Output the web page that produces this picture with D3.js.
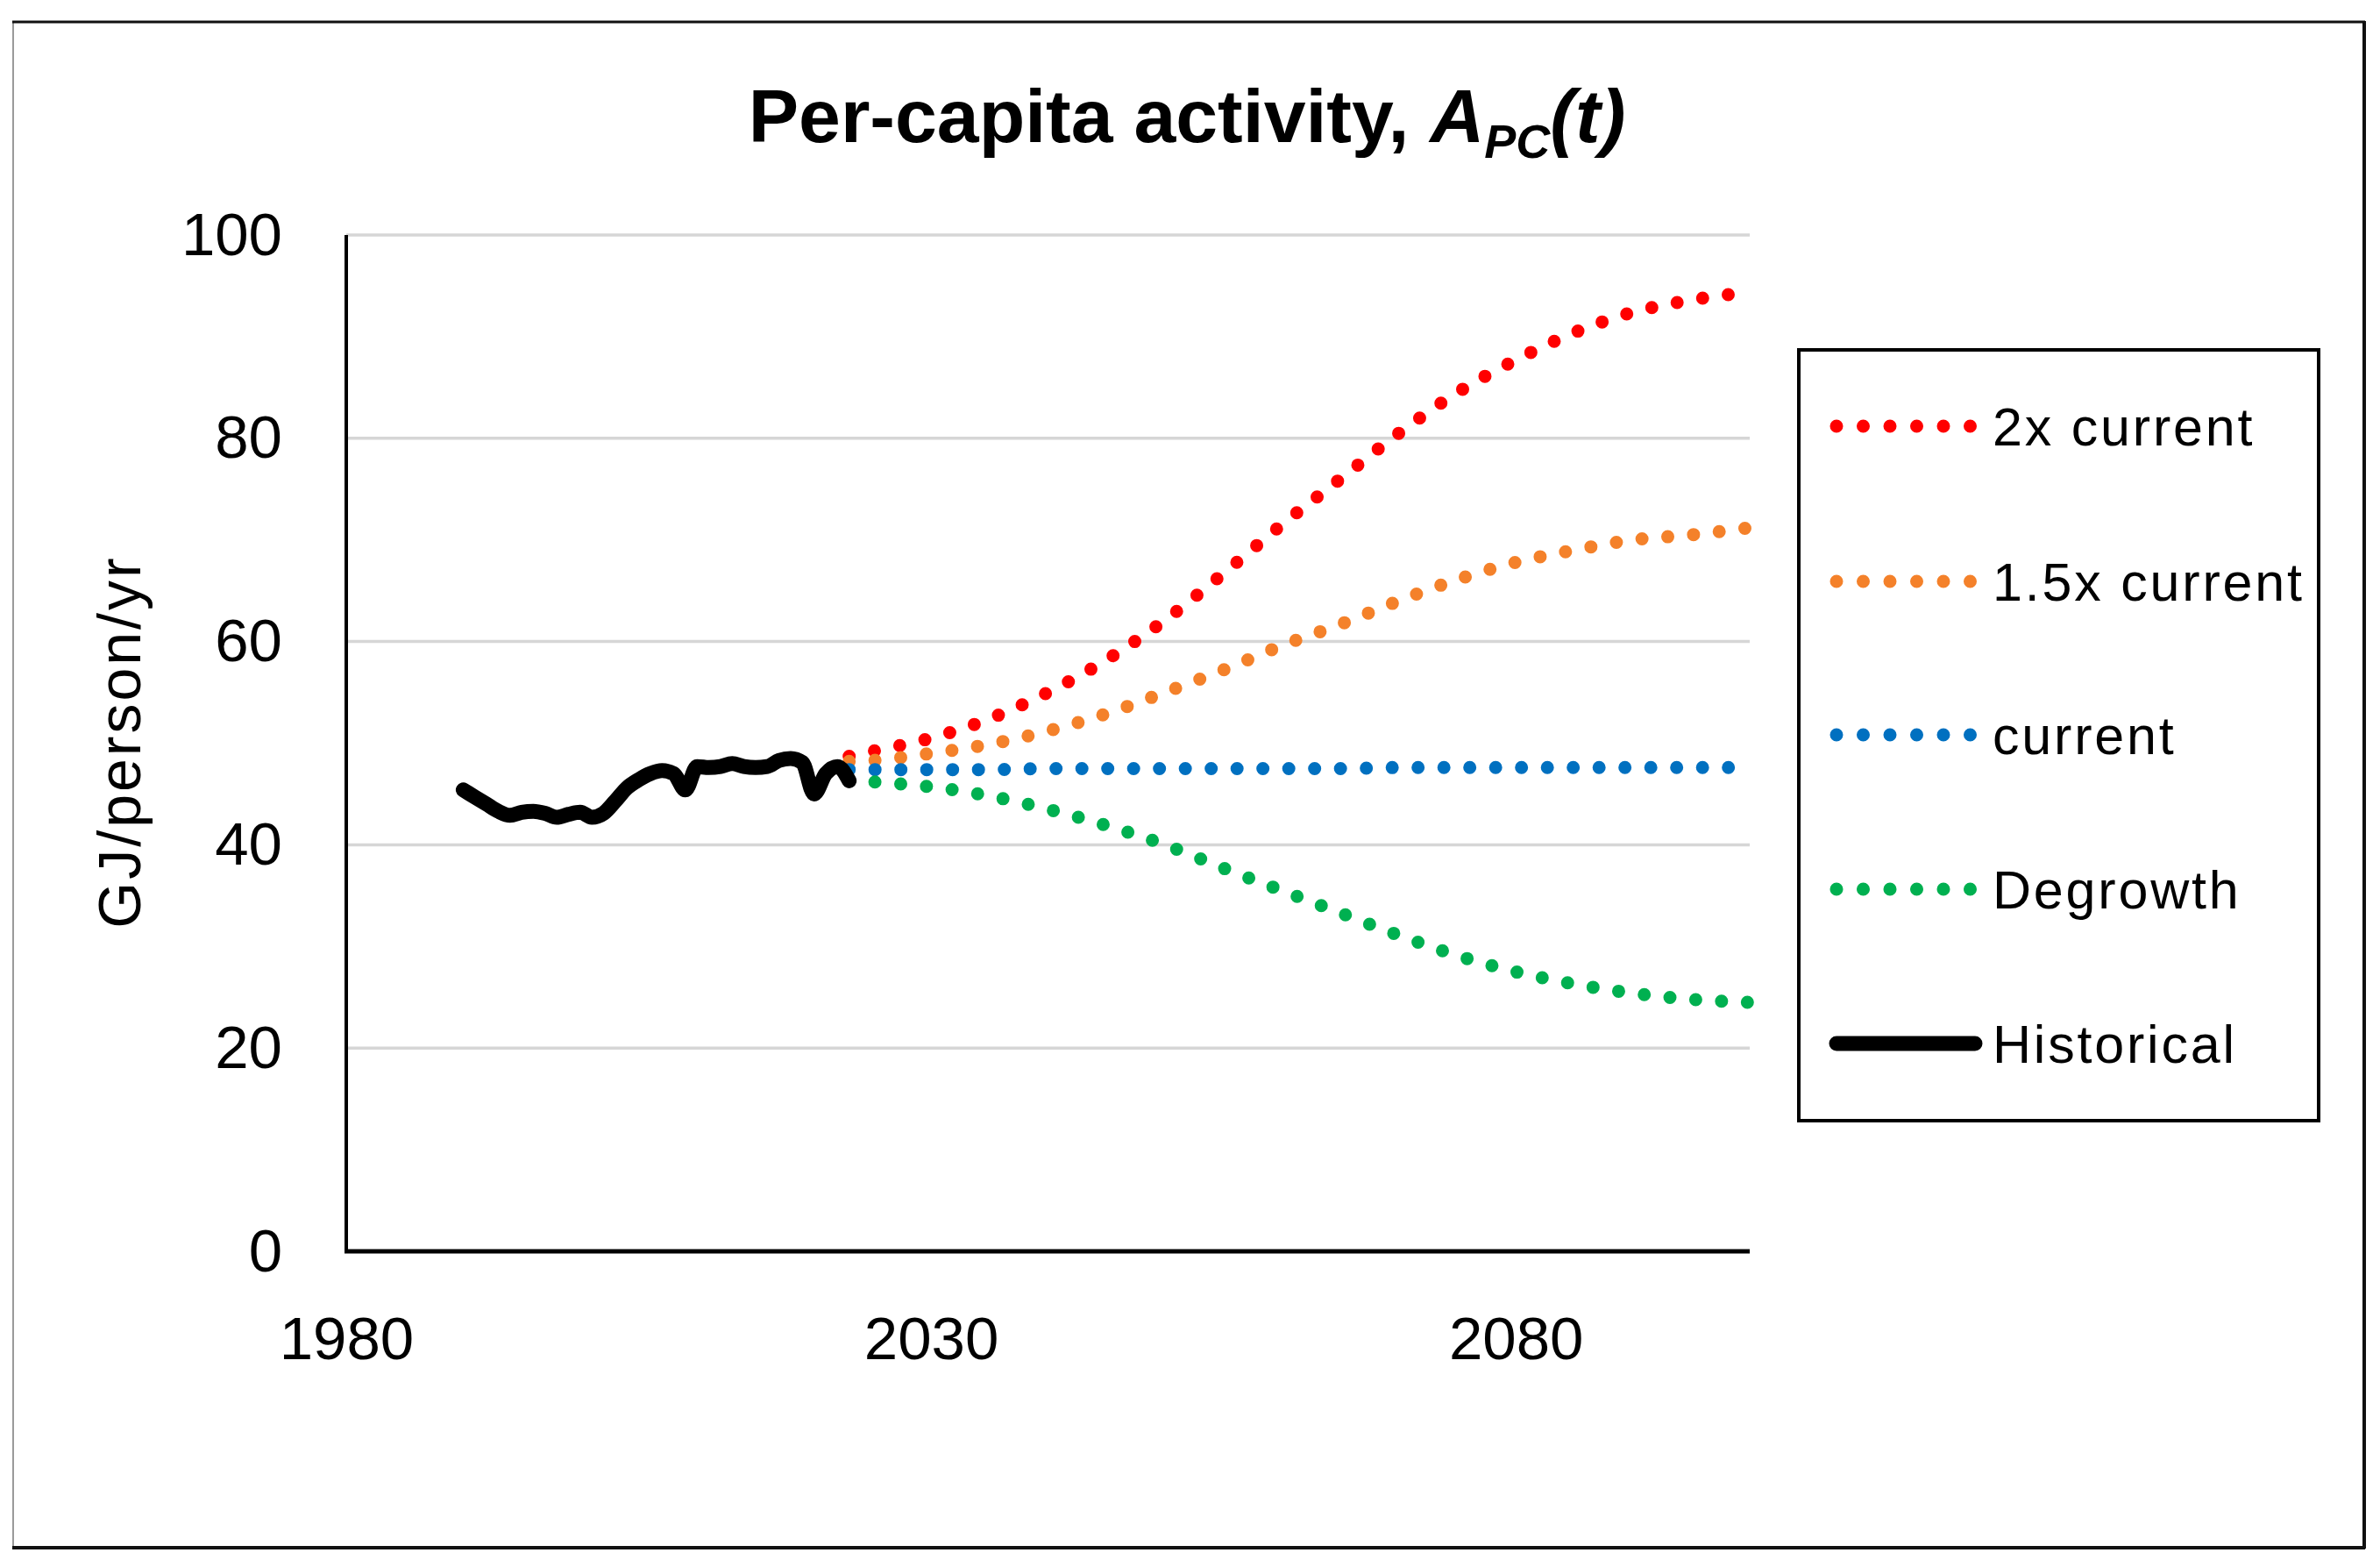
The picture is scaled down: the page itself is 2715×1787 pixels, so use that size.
<!DOCTYPE html>
<html>
<head>
<meta charset="utf-8">
<script src="https://cdn.jsdelivr.net/npm/d3@7"></script>
<style>
  html, body { margin: 0; padding: 0; background: #fff; }
  svg { display: block; }
  text { font-family: "Liberation Sans", Arial, sans-serif; fill: #000; }
</style>
</head>
<body>
<svg id="chart" width="2715" height="1787"></svg>
<script>
// ---------------- data ----------------
const histYears = [1990,1991,1992,1993,1994,1995,1996,1997,1998,1999,2000,2001,2002,2003,2004,2005,2006,2007,2008,2009,2010,2011,2012,2013,2014,2015,2016,2017,2018,2019,2020,2021,2022,2023];
const histValues = [45.4,44.7,44.0,43.3,42.9,43.2,43.3,43.1,42.7,43.0,43.2,42.7,43.1,44.3,45.6,46.4,47.0,47.3,47.0,45.4,47.7,47.6,47.7,48.0,47.7,47.6,47.7,48.3,48.5,48.1,45.0,47.0,47.7,46.3];

const projYears   = [2023,2025,2030,2035,2040,2045,2050,2055,2060,2065,2070,2075,2080,2085,2090,2095,2100];
const twoXCurrent = [48.7,49.2,50.5,52.4,55.0,58.2,62.1,66.7,71.5,76.0,80.5,84.5,87.7,90.4,92.4,93.6,94.4];
const oneHalfX    = [48.2,48.3,49.0,49.9,51.2,52.9,55.0,57.2,59.6,61.7,64.0,66.1,67.8,69.0,70.0,70.5,71.2];
const currentVals = [47.4,47.4,47.4,47.4,47.5,47.5,47.5,47.5,47.5,47.5,47.6,47.6,47.6,47.6,47.6,47.6,47.6];
const degrowth    = [46.4,46.2,45.7,44.8,43.5,41.9,40.0,37.7,35.5,33.3,31.1,29.1,27.5,26.3,25.4,24.8,24.5];

const seriesNames  = ["2x current","1.5x current","current","Degrowth","Historical"];
const seriesColors = ["#FF0000","#F4812A","#0070C0","#00B050","#000000"];
const xTicks = [1980,2030,2080];
const yTicks = [0,20,40,60,80,100];
const titleMain = "Per-capita activity, ";
const yLabel = "GJ/person/yr";

// ---------------- layout ----------------
const svg = d3.select("#chart");
const L = 395, R = 1996, T = 268, B = 1427;

const x = d3.scaleLinear().domain([1980, 2100]).range([L, R]);
const y = d3.scaleLinear().domain([0, 100]).range([B, T]);

// outer frame
svg.append("line").attr("x1",15).attr("y1",25).attr("x2",15).attr("y2",1765).attr("stroke","#9a9a9a").attr("stroke-width",2);
svg.append("line").attr("x1",14).attr("y1",25).attr("x2",2698).attr("y2",25).attr("stroke","#111").attr("stroke-width",3);
svg.append("line").attr("x1",2697).attr("y1",24).attr("x2",2697).attr("y2",1766).attr("stroke","#111").attr("stroke-width",4);
svg.append("line").attr("x1",14).attr("y1",1765).attr("x2",2698).attr("y2",1765).attr("stroke","#111").attr("stroke-width",4);

// gridlines
svg.append("g").selectAll("line").data(yTicks.filter(d => d > 0)).join("line")
  .attr("x1", L).attr("x2", R)
  .attr("y1", d => y(d)).attr("y2", d => y(d))
  .attr("stroke", "#d6d6d6").attr("stroke-width", 3.5);

// y axis
const gy = svg.append("g").attr("transform", `translate(${L},0)`)
  .call(d3.axisLeft(y).tickValues(yTicks).tickSize(0).tickPadding(73).tickFormat(d3.format("d")));
gy.select(".domain").remove();
gy.selectAll("text").style("font-family", '"Liberation Sans", Arial, sans-serif').style("font-size", "69px").attr("fill", "#000");

// x axis
const gx = svg.append("g").attr("transform", `translate(0,${B})`)
  .call(d3.axisBottom(x).tickValues(xTicks).tickSize(0).tickPadding(74).tickFormat(d3.format("d")));
gx.select(".domain").remove();
gx.selectAll("text").style("font-family", '"Liberation Sans", Arial, sans-serif').style("font-size", "69px").attr("fill", "#000");

// axis lines
svg.append("line").attr("x1", L).attr("x2", L).attr("y1", y(100)).attr("y2", B + 2).attr("stroke", "#000").attr("stroke-width", 4);
svg.append("line").attr("x1", L - 2).attr("x2", R).attr("y1", B).attr("y2", B).attr("stroke", "#000").attr("stroke-width", 5);

// projections
const line = d3.line().x(d => x(d[0])).y(d => y(d[1])).curve(d3.curveMonotoneX);
const projSeries = [twoXCurrent, oneHalfX, currentVals, degrowth];
projSeries.forEach((vals, i) => {
  svg.append("path")
    .datum(projYears.map((yr, j) => [yr, vals[j]]))
    .attr("d", line)
    .attr("fill", "none")
    .attr("stroke", seriesColors[i])
    .attr("stroke-width", 15)
    .attr("stroke-linecap", "round")
    .attr("stroke-dasharray", "0 29.5");
});

// historical
svg.append("path")
  .datum(histYears.map((yr, j) => [yr, histValues[j]]))
  .attr("d", d3.line().x(d => x(d[0])).y(d => y(d[1])).curve(d3.curveMonotoneX))
  .attr("fill", "none")
  .attr("stroke", "#000")
  .attr("stroke-width", 17)
  .attr("stroke-linecap", "round")
  .attr("stroke-linejoin", "round");

// title
const title = svg.append("text")
  .attr("x", 1354).attr("y", 162)
  .attr("text-anchor", "middle")
  .style("font-weight", "bold")
  .style("font-size", "86px");
title.append("tspan").text(titleMain);
title.append("tspan").style("font-style", "italic").text("A");
title.append("tspan").style("font-style", "italic").style("font-size", "54px").attr("dy", 18).text("PC");
title.append("tspan").style("font-style", "italic").attr("dy", -18).text("(t)");

// y label
svg.append("text")
  .attr("transform", "translate(160,846) rotate(-90)")
  .attr("text-anchor", "middle")
  .style("font-size", "68px")
  .style("letter-spacing", "3px")
  .text(yLabel);

// legend
const lg = svg.append("g");
lg.append("rect").attr("x", 2052).attr("y", 399).attr("width", 593).attr("height", 879)
  .attr("fill", "#fff").attr("stroke", "#000").attr("stroke-width", 4);
const legendY = [486, 663, 838, 1014, 1190];
seriesNames.forEach((name, i) => {
  const yy = legendY[i];
  if (i < 4) {
    lg.append("line").attr("x1", 2095).attr("x2", 2249).attr("y1", yy).attr("y2", yy)
      .attr("stroke", seriesColors[i]).attr("stroke-width", 15)
      .attr("stroke-linecap", "round").attr("stroke-dasharray", "0 30.5");
  } else {
    lg.append("line").attr("x1", 2095).attr("x2", 2253).attr("y1", yy).attr("y2", yy)
      .attr("stroke", "#000").attr("stroke-width", 17).attr("stroke-linecap", "round");
  }
  lg.append("text").attr("x", 2273).attr("y", yy + 22)
    .style("font-size", "61px").style("letter-spacing", "2.8px").text(name);
});
</script>
</body>
</html>
